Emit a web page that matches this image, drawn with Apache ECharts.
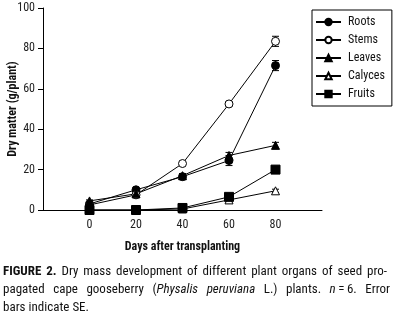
<!DOCTYPE html>
<html>
<head>
<meta charset="utf-8">
<script src="https://cdn.jsdelivr.net/npm/echarts@6/dist/echarts.min.js"></script>
<style>
  html, body { margin: 0; padding: 0; background: #fff; }
  #chart { width: 394px; height: 315px; }
</style>
</head>
<body>
<div id="chart"></div>
<script>
const days = [0, 20, 40, 60, 80];
const roots = [3, 10, 16.5, 24.5, 71.5];
const stems = [2.5, 7.5, 23, 52.5, 83.5];
const leaves = [4.5, 8, 17, 27, 32];
const calyces = [0, 0, 0.5, 5, 9.5];
const fruits = [0, 0, 1, 6.5, 20];
const rootsSE = [0.5, 0.8, 1.5, 2.5, 2.5];
const stemsSE = [0.3, 0.5, 0.8, 1, 2.5];
const leavesSE = [0.5, 0.5, 1, 1.5, 1.5];
const calycesSE = [0, 0, 0.2, 0.5, 0.8];
const fruitsSE = [0, 0, 0.3, 0.8, 1];
const yTicks = [0, 20, 40, 60, 80, 100];

const FONT = '"Roboto Condensed", "DejaVu Sans Condensed", sans-serif';

// caption lines: each word is a list of [text, style] pieces
const captionLines = [
    { right: 387, words: [[['FIGURE', 'b']], [['2.', 'b']], [['Dry', 'n']], [['mass', 'n']], [['development', 'n']], [['of', 'n']], [['different', 'n']], [['plant', 'n']], [['organs', 'n']], [['of', 'n']], [['seed', 'n']], [['pro-', 'n']]] },
    { right: 390, words: [[['pagated', 'n']], [['cape', 'n']], [['gooseberry', 'n']], [['(', 'n'], ['Physalis', 'i']], [['peruviana', 'i']], [['L.)', 'n']], [['plants.', 'n']], [['n', 'i'], ['\u2009=\u20096.', 'n']], [['Error', 'n']]] },
    { right: 0, words: [[['bars', 'n']], [['indicate', 'n']], [['SE.', 'n']]] }
];

const chart = echarts.init(document.getElementById('chart'));

function pairs (vals) {
    return days.map(function (d, i) { return [d, vals[i]]; });
}

function errBars (vals, se) {
    return days.map(function (d, i) { return [d, vals[i] - se[i], vals[i] + se[i]]; });
}

function errorSeries (vals, se) {
    return {
        type: 'custom',
        silent: true,
        clip: false,
        z: 1,
        data: errBars(vals, se),
        renderItem: function (params, api) {
            const top = api.coord([api.value(0), api.value(2)]);
            const bot = api.coord([api.value(0), api.value(1)]);
            const w = 3.5;
            const style = { stroke: '#000', lineWidth: 1 };
            return {
                type: 'group',
                children: [
                    { type: 'line', shape: { x1: top[0], y1: top[1], x2: bot[0], y2: bot[1] }, style: style },
                    { type: 'line', shape: { x1: top[0] - w, y1: top[1], x2: top[0] + w, y2: top[1] }, style: style },
                    { type: 'line', shape: { x1: bot[0] - w, y1: bot[1], x2: bot[0] + w, y2: bot[1] }, style: style }
                ]
            };
        }
    };
}

function lineSeries (name, vals, symbol, size, filled) {
    return {
        name: name,
        type: 'line',
        data: pairs(vals),
        symbol: symbol,
        symbolSize: size,
        showAllSymbol: true,
        clip: false,
        z: 3,
        lineStyle: { color: '#000', width: 1 },
        itemStyle: { color: filled ? '#000' : '#fff', borderColor: '#000', borderWidth: 1 },
        emphasis: { disabled: true }
    };
}

// justified caption, laid out word by word
const measureCtx = document.createElement('canvas').getContext('2d');
function pieceFont (style) {
    const pre = style === 'b' ? 'bold ' : (style === 'i' ? 'italic ' : '');
    return pre + '13px ' + FONT;
}
function wordWidth (word) {
    let w = 0;
    word.forEach(function (p) {
        measureCtx.font = pieceFont(p[1]);
        w += measureCtx.measureText(p[0]).width;
    });
    return w;
}
const captionGraphics = [];
captionLines.forEach(function (line, li) {
    const left = 3;
    measureCtx.font = pieceFont('n');
    const space = measureCtx.measureText(' ').width;
    const widths = line.words.map(wordWidth);
    const total = widths.reduce(function (a, b) { return a + b; }, 0);
    let gap = space;
    if (line.right > 0 && line.words.length > 1) {
        gap = (line.right - left - total) / (line.words.length - 1);
    }
    let x = left;
    line.words.forEach(function (word) {
        word.forEach(function (p) {
            measureCtx.font = pieceFont(p[1]);
            captionGraphics.push({
                type: 'text',
                x: x,
                y: 272 + li * 18,
                style: {
                    text: p[0],
                    font: pieceFont(p[1]),
                    fill: '#111',
                    verticalAlign: 'middle'
                }
            });
            x += measureCtx.measureText(p[0]).width;
        });
        x += gap;
    });
});

const options = {
    animation: false,
    textStyle: { fontFamily: FONT },
    grid: {
        left: 43,
        right: 72,
        top: 8,
        bottom: 105,
        containLabel: false,
        outerBoundsMode: 'none'
    },
    legend: {
        orient: 'vertical',
        left: 312,
        top: 10,
        padding: [6, 7, 6, 3],
        itemGap: 6,
        itemWidth: 25,
        itemHeight: 8,
        borderColor: '#000',
        borderWidth: 1,
        borderRadius: 0,
        textStyle: { fontFamily: FONT, fontSize: 12, color: '#111', padding: [0, 0, 0, 2] },
        data: ['Roots', 'Stems', 'Leaves', 'Calyces', 'Fruits']
    },
    xAxis: {
        type: 'value',
        min: -20,
        max: 100,
        interval: 20,
        name: 'Days after transplanting',
        nameLocation: 'middle',
        nameGap: 31,
        nameMoveOverlap: false,
        nameTextStyle: { fontFamily: FONT, fontSize: 12, fontWeight: 'bold', color: '#111' },
        axisLine: { onZero: false, lineStyle: { color: '#000', width: 1 } },
        axisTick: { show: false },
        splitLine: { show: false },
        axisLabel: {
            fontFamily: FONT,
            fontSize: 12,
            color: '#222',
            margin: 9,
            formatter: function (v) { return days.indexOf(v) >= 0 ? String(v) : ''; }
        }
    },
    yAxis: {
        type: 'value',
        min: yTicks[0],
        max: yTicks[yTicks.length - 1],
        interval: 20,
        name: 'Dry matter (g/plant)',
        nameLocation: 'middle',
        nameGap: 24,
        nameMoveOverlap: false,
        nameTextStyle: { fontFamily: FONT, fontSize: 12, fontWeight: 'bold', color: '#111' },
        axisLine: { show: true, onZero: false, lineStyle: { color: '#000', width: 1 } },
        axisTick: { show: true, length: 5, lineStyle: { color: '#000' } },
        splitLine: { show: false },
        axisLabel: { fontFamily: FONT, fontSize: 12, color: '#222', margin: 8 }
    },
    graphic: captionGraphics,
    series: [
        errorSeries(roots, rootsSE),
        errorSeries(stems, stemsSE),
        errorSeries(leaves, leavesSE),
        errorSeries(calyces, calycesSE),
        errorSeries(fruits, fruitsSE),
        lineSeries('Roots', roots, 'circle', 8, true),
        lineSeries('Stems', stems, 'circle', 8, false),
        lineSeries('Leaves', leaves, 'triangle', 8, true),
        lineSeries('Calyces', calyces, 'triangle', 8, false),
        lineSeries('Fruits', fruits, 'rect', 9, true)
    ]
};
chart.setOption(options);
</script>
</body>
</html>
